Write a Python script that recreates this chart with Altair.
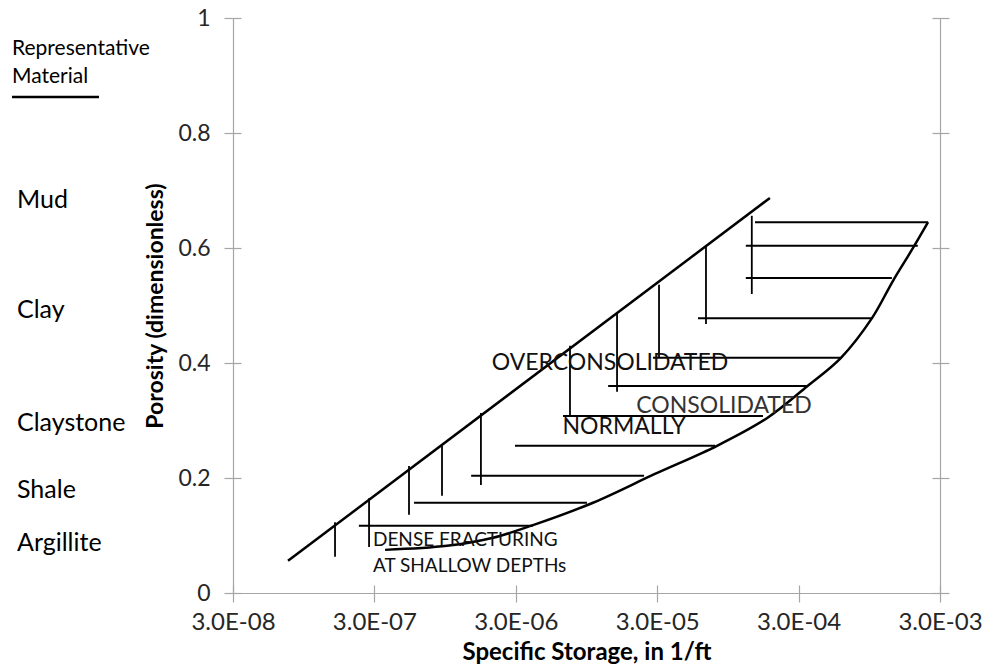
import altair as alt
import pandas as pd

FONT = "Lato"
AXIS_GREY = "#a6a6a6"

# ---- data ----
x_ticks = [3e-08, 3e-07, 3e-06, 3e-05, 3e-04, 3e-03]
x_tick_labels = ["3.0E-08", "3.0E-07", "3.0E-06", "3.0E-05", "3.0E-04", "3.0E-03"]
y_ticks = [0, 0.2, 0.4, 0.6, 0.8, 1.0]
y_tick_labels = ["0", "0.2", "0.4", "0.6", "0.8", "1"]

# upper (left) boundary line
upper_x = [7.35e-08, 1.88e-04]
upper_y = [0.056, 0.687]

# lower / right boundary curve
lower_x = [3.57e-07, 9.79e-07, 2.07e-06, 3.97e-06, 1.055e-05, 2.89e-05, 7.95e-05,
           1.79e-04, 3.47e-04, 5.98e-04, 9.91e-04, 1.396e-03, 1.90e-03, 2.47e-03]
lower_y = [0.075, 0.082, 0.096, 0.118, 0.157, 0.207, 0.256,
           0.304, 0.360, 0.409, 0.478, 0.543, 0.597, 0.645]

# vertical hatch lines
v_x = [1.58e-07, 2.75e-07, 5.27e-07, 9.02e-07, 1.70e-06, 7.25e-06, 1.56e-05, 3.09e-05, 6.64e-05, 1.40e-04]
v_top = [0.123, 0.165, 0.221, 0.256, 0.313, 0.430, 0.487, 0.536, 0.603, 0.656]
v_bot = [0.063, 0.080, 0.136, 0.169, 0.188, 0.306, 0.350, 0.409, 0.468, 0.520]

# horizontal hatch lines (last one is the top boundary)
h_y = [0.117, 0.157, 0.204, 0.256, 0.308, 0.360, 0.409, 0.478, 0.548, 0.604, 0.645]
h_x1 = [2.33e-07, 5.72e-07, 1.45e-06, 2.96e-06, 6.47e-06, 1.35e-05, 2.80e-05, 5.83e-05, 1.27e-04, 1.27e-04, 1.475e-04]
h_x2 = [3.97e-06, 9.56e-06, 2.42e-05, 7.69e-05, 1.68e-04, 3.47e-04, 5.98e-04, 9.75e-04, 1.37e-03, 2.09e-03, 2.47e-03]

# centred annotations inside the plot
c_text = ["OVERCONSOLIDATED", "CONSOLIDATED", "NORMALLY"]
c_x = [1.39e-05, 8.9e-05, 1.75e-05]
c_y = [0.400, 0.325, 0.289]
c_color = ["#111111", "#333333", "#111111"]

# left-aligned annotations
l_text = ["DENSE FRACTURING", "AT SHALLOW DEPTHs"]
l_x = [2.93e-07, 2.93e-07]
l_y = [0.092, 0.047]

# representative material labels (left margin)
mat_header = ["Representative", "Material"]
mat_header_y = [0.946, 0.897]
materials = ["Mud", "Clay", "Claystone", "Shale", "Argillite"]
materials_y = [0.683, 0.492, 0.296, 0.179, 0.087]
underline_y = [0.8626]

# ---- scales ----
xs = alt.Scale(type="log", domain=[x_ticks[0], x_ticks[-1]], nice=False)
ys = alt.Scale(type="linear", domain=[0, 1], nice=False, zero=False)

x_label_expr = "[" + ",".join(f"'{l}'" for l in x_tick_labels) + "][indexof([" + ",".join(repr(v) for v in x_ticks) + "], datum.value)]"
y_label_expr = "[" + ",".join(f"'{l}'" for l in y_tick_labels) + "][indexof([" + ",".join(repr(v) for v in y_ticks) + "], datum.value)]"

common_axis = dict(grid=False, domainColor=AXIS_GREY, tickColor=AXIS_GREY, tickSize=9,
                   domainWidth=1.2, tickWidth=1.2)

x_main = alt.Axis(orient="bottom", values=x_ticks, labelExpr=x_label_expr,
                  title="Specific Storage, in 1/ft", labelFont=FONT, titleFont=FONT,
                  labelFontSize=24, titleFontSize=24, titleFontWeight="bold",
                  labelColor="#262626", titleColor="#000000", labelPadding=8,
                  titlePadding=6, labelFlush=False, **common_axis)
y_main = alt.Axis(orient="left", values=y_ticks, labelExpr=y_label_expr,
                  title="Porosity (dimensionless)", labelFont=FONT, titleFont=FONT,
                  labelFontSize=23, titleFontSize=23, titleFontWeight="bold",
                  labelColor="#262626", titleColor="#000000", labelPadding=14,
                  titlePadding=10, labelFlush=False, **common_axis)
x_inner = alt.Axis(orient="bottom", values=x_ticks, labels=False, domain=False, title=None,
                   offset=-8, grid=False, tickColor=AXIS_GREY, tickSize=8, tickWidth=1.2)
y_inner = alt.Axis(orient="left", values=y_ticks, labels=False, domain=False, title=None,
                   offset=-8, grid=False, tickColor=AXIS_GREY, tickSize=8, tickWidth=1.2)
y_right = alt.Axis(orient="right", values=y_ticks, labels=False, title=None, **common_axis)
y_right_inner = alt.Axis(orient="right", values=y_ticks, labels=False, domain=False, title=None,
                         offset=-8, grid=False, tickColor=AXIS_GREY, tickSize=8, tickWidth=1.2)

upper_df = pd.DataFrame({"x": upper_x, "y": upper_y})
lower_df = pd.DataFrame({"x": lower_x, "y": lower_y})
v_df = pd.DataFrame({"x": v_x, "y": v_top, "y2": v_bot})
h_df = pd.DataFrame({"x": h_x1, "x2": h_x2, "y": h_y})
c_df = pd.DataFrame({"t": c_text, "x": c_x, "y": c_y, "c": c_color})
l_df = pd.DataFrame({"t": l_text, "x": l_x, "y": l_y})
head_df = pd.DataFrame({"t": mat_header, "y": mat_header_y})
mat_df = pd.DataFrame({"t": materials, "y": materials_y})
ul_df = pd.DataFrame({"y": underline_y})

upper = alt.Chart(upper_df).mark_line(color="black", strokeWidth=2.5).encode(
    x=alt.X("x:Q", scale=xs, axis=x_main),
    y=alt.Y("y:Q", scale=ys, axis=y_main),
)
lower = alt.Chart(lower_df).mark_line(color="black", strokeWidth=2.5, interpolate="catmull-rom").encode(
    x=alt.X("x:Q", scale=xs, axis=x_inner),
    y=alt.Y("y:Q", scale=ys, axis=y_inner),
)
verts = alt.Chart(v_df).mark_rule(color="black", strokeWidth=1.8).encode(
    x=alt.X("x:Q", scale=xs, axis=None),
    y=alt.Y("y:Q", scale=ys, axis=y_right),
    y2="y2:Q",
)
horiz = alt.Chart(h_df).mark_rule(color="black", strokeWidth=2).encode(
    x=alt.X("x:Q", scale=xs, axis=None),
    x2="x2:Q",
    y=alt.Y("y:Q", scale=ys, axis=y_right_inner),
)
ctext = alt.Chart(c_df).mark_text(font=FONT, fontSize=23, align="center", baseline="middle").encode(
    x=alt.X("x:Q", scale=xs, axis=None),
    y=alt.Y("y:Q", scale=ys, axis=None),
    text="t:N",
    color=alt.Color("c:N", scale=None),
)
ltext = alt.Chart(l_df).mark_text(font=FONT, fontSize=19, align="left", baseline="middle",
                                  color="#111111").encode(
    x=alt.X("x:Q", scale=xs, axis=None),
    y=alt.Y("y:Q", scale=ys, axis=None),
    text="t:N",
)
head = alt.Chart(head_df).mark_text(font=FONT, fontSize=21, align="left", baseline="middle",
                                    color="#000000").encode(
    x=alt.value(-221),
    y=alt.Y("y:Q", scale=ys, axis=None),
    text="t:N",
)
mats = alt.Chart(mat_df).mark_text(font=FONT, fontSize=25, align="left", baseline="middle",
                                   color="#000000").encode(
    x=alt.value(-216),
    y=alt.Y("y:Q", scale=ys, axis=None),
    text="t:N",
)
uline = alt.Chart(ul_df).mark_rule(color="black", strokeWidth=2.5).encode(
    x=alt.value(-221),
    x2=alt.value(-134),
    y=alt.Y("y:Q", scale=ys, axis=None),
)

chart = alt.layer(upper, lower, verts, horiz, ctext, ltext, head, mats, uline).resolve_scale(
    x="shared", y="shared"
).resolve_axis(
    x="independent", y="independent"
).properties(
    width=707, height=575,
    autosize=alt.AutoSizeParams(type="none"),
    padding={"left": 233, "top": 18, "right": 42, "bottom": 77},
    background="white",
).configure_view(stroke=None)

chart.save("out.html", embed_options={"renderer": "svg", "actions": False})
